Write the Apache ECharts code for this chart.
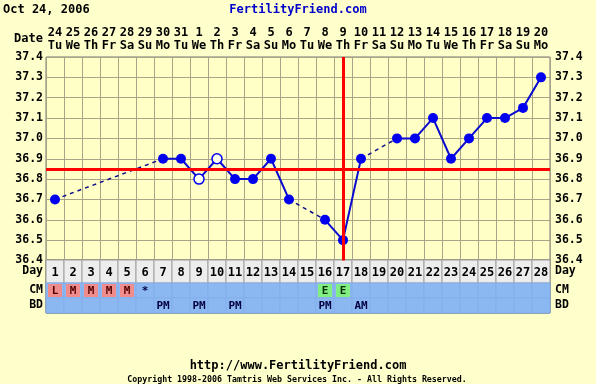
<!DOCTYPE html>
<html><head><meta charset="utf-8">
<script src="https://cdn.jsdelivr.net/npm/echarts@6/dist/echarts.min.js"></script>
<style>html,body{margin:0;padding:0;background:#ffffcc}#c{width:596px;height:384px}</style>
</head><body><div id="c"></div>
<script>
// ---- data ----
const dateNums = ['24','25','26','27','28','29','30','31','1','2','3','4','5','6','7','8','9','10','11','12','13','14','15','16','17','18','19','20'];
const dayNames = ['Tu','We','Th','Fr','Sa','Su','Mo','Tu','We','Th','Fr','Sa','Su','Mo','Tu','We','Th','Fr','Sa','Su','Mo','Tu','We','Th','Fr','Sa','Su','Mo'];
const cycleDays = ['1','2','3','4','5','6','7','8','9','10','11','12','13','14','15','16','17','18','19','20','21','22','23','24','25','26','27','28'];
const temps = [36.7,null,null,null,null,null,36.9,36.9,36.8,36.9,36.8,36.8,36.9,36.7,null,36.6,36.5,36.9,null,37.0,37.0,37.1,36.9,37.0,37.1,37.1,37.15,37.3];
const openDays = ['9','10'];
const cmValues = ['L','M','M','M','M','*','','','','','','','','','','E','E','','','','','','','','','','',''];
const bdValues = ['','','','','','','PM','','PM','','PM','','','','','PM','','AM','','','','','','','','','',''];
const coverline = 36.85;
const ovulationDay = '17';
const yMin = 36.4, yMax = 37.4, yStep = 0.1;
const headerDate = 'Oct 24, 2006';
const siteName = 'FertilityFriend.com';
const siteUrl = 'http://www.FertilityFriend.com';
const copyright = 'Copyright 1998-2006 Tamtris Web Services Inc. - All Rights Reserved.';

// ---- chart ----
const FONT = '"DejaVu Sans Mono", monospace';
const GRIDC = '#a8a488';
const BLUEROW = '#8cb8f2';
const chart = echarts.init(document.getElementById('c'), null, {renderer: 'canvas'});

const dateLabels = dateNums.map((d, i) => d + '\n' + dayNames[i]);

const solidData = temps.map((v, i) => {
  if (v === null) return null;
  const open = openDays.indexOf(cycleDays[i]) >= 0;
  return open ? {value: v, itemStyle: {color: '#ffffee', borderColor: '#0000ee', borderWidth: 1.5}} : {value: v};
});

// dashed segments bridging gaps
const dashedSeries = [];
let prev = -1;
temps.forEach((v, i) => {
  if (v === null) return;
  if (prev >= 0 && i - prev > 1) {
    const d = temps.map(() => null);
    d[prev] = temps[prev]; d[i] = v;
    dashedSeries.push({
      type: 'line', xAxisIndex: 0, yAxisIndex: 0, data: d, connectNulls: true,
      showSymbol: false, symbol: 'none', z: 2, silent: true, animation: false,
      lineStyle: {color: '#10108a', width: 1.5, type: [4, 4]}
    });
  }
  prev = i;
});

function rowRenderer(kind) {
  return function (params, api) {
    const i = params.dataIndex;
    const c = api.coord([i, 0]);
    const sz = api.size([1, 1]);
    const w = sz[0], h = sz[1];
    const x0 = c[0] - w / 2, y0 = c[1] - h / 2;
    const ch = [];
    if (kind === 'day') {
      ch.push({type: 'rect', shape: {x: x0, y: y0, width: w, height: h}, style: {fill: '#ededed', stroke: '#a0a0a0', lineWidth: 1}});
      ch.push({type: 'text', style: {text: cycleDays[i], x: c[0], y: c[1] + 1, align: 'center', verticalAlign: 'middle', font: 'bold 12px ' + FONT, fill: '#000'}});
    } else {
      ch.push({type: 'rect', shape: {x: x0, y: y0, width: w, height: h}, style: {fill: BLUEROW, stroke: '#84aeea', lineWidth: 1}});
      const t = kind === 'cm' ? cmValues[i] : bdValues[i];
      let bg = null, fc = '#000040';
      if (t === 'L' || t === 'M') { bg = '#f08c8c'; fc = '#500000'; }
      if (t === 'E') { bg = '#80ee80'; fc = '#003000'; }
      if (bg) ch.push({type: 'rect', shape: {x: x0 + 2, y: y0 + 1, width: w - 4, height: h - 2}, style: {fill: bg}});
      if (t) ch.push({type: 'text', style: {text: t, x: c[0], y: c[1] + 1, align: 'center', verticalAlign: 'middle', font: 'bold 11px ' + FONT, fill: fc}});
    }
    return {type: 'group', children: ch};
  };
}

const rowGrids = [
  {top: 260, height: 23, name: 'Day', kind: 'day'},
  {top: 283, height: 15, name: 'CM', kind: 'cm'},
  {top: 298, height: 15, name: 'BD', kind: 'bd'}
];

const grids = [{left: 46, top: 57, width: 504, height: 203.5, show: true, backgroundColor: '#ffffc6', borderColor: '#777', borderWidth: 1}];
const xAxes = [{
  gridIndex: 0, type: 'category', data: dateLabels, position: 'top', boundaryGap: true,
  axisLine: {show: false}, axisTick: {show: false},
  axisLabel: {interval: 0, margin: 5, lineHeight: 13, color: '#000', fontFamily: FONT, fontWeight: 'bold', fontSize: 12},
  splitLine: {show: true, interval: 0, lineStyle: {color: GRIDC, width: 1}}
}];
const yAxisLabel = {color: '#000', fontFamily: FONT, fontWeight: 'bold', fontSize: 11.5, formatter: v => Number(v).toFixed(1)};
const yAxes = [
  {gridIndex: 0, type: 'value', min: yMin, max: yMax, interval: yStep, position: 'left',
   axisLine: {show: false}, axisTick: {show: false}, axisLabel: Object.assign({margin: 3}, yAxisLabel),
   splitLine: {show: true, lineStyle: {color: GRIDC, width: 1}}},
  {gridIndex: 0, type: 'value', min: yMin, max: yMax, interval: yStep, position: 'right',
   axisLine: {show: false}, axisTick: {show: false}, axisLabel: Object.assign({margin: 5}, yAxisLabel),
   splitLine: {show: false}}
];
const series = [];
rowGrids.forEach((g, k) => {
  const gi = k + 1;
  grids.push({left: 46, top: g.top, width: 504, height: g.height, show: true, borderColor: '#333', borderWidth: 1});
  xAxes.push({gridIndex: gi, type: 'category', data: cycleDays, show: false});
  const lab = {color: '#000', fontFamily: FONT, fontWeight: 'bold', fontSize: 11.5};
  yAxes.push({gridIndex: gi, type: 'category', data: [g.name], position: 'left', axisLine: {show: false}, axisTick: {show: false}, axisLabel: Object.assign({margin: 3}, lab)});
  yAxes.push({gridIndex: gi, type: 'category', data: [g.name], position: 'right', axisLine: {show: false}, axisTick: {show: false}, axisLabel: Object.assign({margin: 5}, lab)});
  series.push({
    type: 'custom', xAxisIndex: gi, yAxisIndex: yAxes.length - 2, silent: true, animation: false, z: 1,
    data: cycleDays.map((d, i) => [i, 0]), renderItem: rowRenderer(g.kind), clip: false
  });
});

series.push({
  type: 'line', xAxisIndex: 0, yAxisIndex: 0, data: [], z: 1, silent: true, animation: false,
  markLine: {
    symbol: 'none', silent: true, animation: false, label: {show: false},
    lineStyle: {color: '#ff0000', width: 3, type: 'solid'},
    data: [{yAxis: coverline}, {xAxis: cycleDays.indexOf(ovulationDay)}]
  }
});
dashedSeries.forEach(s => series.push(s));
series.push({
  type: 'line', xAxisIndex: 0, yAxisIndex: 0, data: solidData, connectNulls: false,
  symbol: 'circle', symbolSize: 10, showSymbol: true, showAllSymbol: true, z: 3, silent: true, animation: false,
  lineStyle: {color: '#0a0ad0', width: 2}, itemStyle: {color: '#0000ee'}
});

const txt = (text, x, y, opts) => Object.assign({type: 'text', x: x, y: y, silent: true,
  style: Object.assign({text: text, font: 'bold 12px ' + FONT, fill: '#000', verticalAlign: 'middle'}, opts || {})});

chart.setOption({
  backgroundColor: '#ffffcc',
  animation: false,
  grid: grids, xAxis: xAxes, yAxis: yAxes, series: series,
  graphic: [
    txt(headerDate, 3, 10),
    txt(siteName, 298, 10, {align: 'center', fill: '#0000cc'}),
    txt('Date', 43, 39, {align: 'right'}),
    txt(siteUrl, 298, 366, {align: 'center'}),
    txt(copyright, 297, 380, {align: 'center', font: 'bold 8.3px ' + FONT})
  ]
});
</script></body></html>
